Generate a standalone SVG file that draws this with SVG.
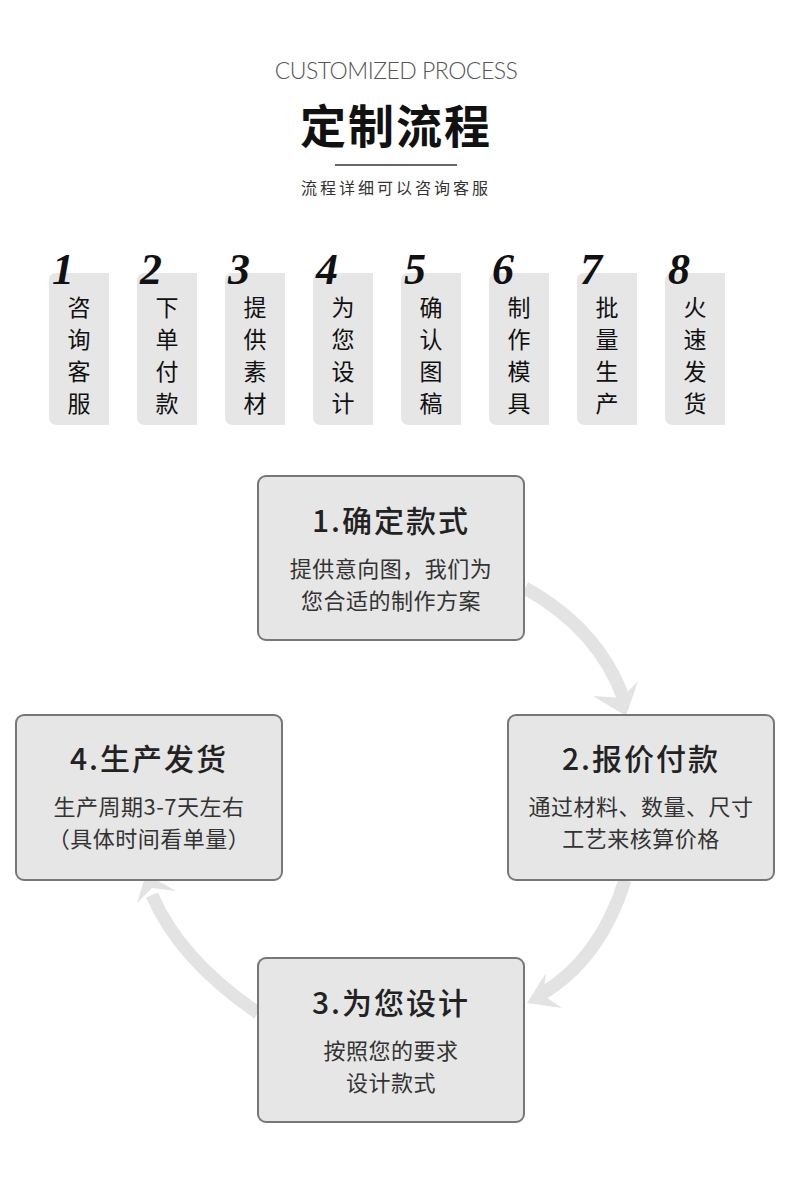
<svg xmlns="http://www.w3.org/2000/svg" width="790" height="1197" viewBox="0 0 790 1197">
<style>
.cj{font-family:"Noto Sans CJK SC","Liberation Sans",sans-serif}
.tab{fill:#e6e6e6}
.tt{font-size:23px;fill:#111;text-anchor:middle}
.num{font-family:"Liberation Serif","DejaVu Serif",serif;font-style:italic;font-weight:bold;font-size:44px;fill:#111}
.box{fill:#e6e6e6;stroke:#777;stroke-width:2}
.bt{font-size:30px;fill:#222;text-anchor:middle;font-weight:500;letter-spacing:2px}
.bd{font-size:22px;fill:#333;text-anchor:middle;letter-spacing:0.5px}
.arc{fill:none;stroke:#e3e3e3;stroke-width:13}
.ah{fill:#e3e3e3}
</style>
<rect width="790" height="1197" fill="#fff"/>
<text x="396" y="79" text-anchor="middle" font-family="Lato,'Liberation Sans',sans-serif" font-weight="300" font-size="23" fill="#555" letter-spacing="-0.5">CUSTOMIZED PROCESS</text>
<text x="396" y="143" class="cj" text-anchor="middle" font-size="46" font-weight="bold" fill="#111" letter-spacing="2">定制流程</text>
<line x1="335" y1="165" x2="457" y2="165" stroke="#333" stroke-width="1.5"/>
<text x="396" y="194" class="cj" text-anchor="middle" font-size="16" fill="#333" letter-spacing="3">流程详细可以咨询客服</text>
<g id="tabs">
<g id="t1"><path class="tab" d="M57,273 H109 V425 H57 Q49,425 49,417 V281 Q49,273 57,273Z"/><text class="num" x="52" y="284">1</text><text class="cj tt" x="79" y="316">咨</text><text class="cj tt" x="79" y="348">询</text><text class="cj tt" x="79" y="380">客</text><text class="cj tt" x="79" y="412">服</text></g>
<g id="t2"><path class="tab" d="M145,273 H197 V425 H145 Q137,425 137,417 V281 Q137,273 145,273Z"/><text class="num" x="140" y="284">2</text><text class="cj tt" x="167" y="316">下</text><text class="cj tt" x="167" y="348">单</text><text class="cj tt" x="167" y="380">付</text><text class="cj tt" x="167" y="412">款</text></g>
<g id="t3"><path class="tab" d="M233,273 H285 V425 H233 Q225,425 225,417 V281 Q225,273 233,273Z"/><text class="num" x="228" y="284">3</text><text class="cj tt" x="255" y="316">提</text><text class="cj tt" x="255" y="348">供</text><text class="cj tt" x="255" y="380">素</text><text class="cj tt" x="255" y="412">材</text></g>
<g id="t4"><path class="tab" d="M321,273 H373 V425 H321 Q313,425 313,417 V281 Q313,273 321,273Z"/><text class="num" x="316" y="284">4</text><text class="cj tt" x="343" y="316">为</text><text class="cj tt" x="343" y="348">您</text><text class="cj tt" x="343" y="380">设</text><text class="cj tt" x="343" y="412">计</text></g>
<g id="t5"><path class="tab" d="M409,273 H461 V425 H409 Q401,425 401,417 V281 Q401,273 409,273Z"/><text class="num" x="404" y="284">5</text><text class="cj tt" x="431" y="316">确</text><text class="cj tt" x="431" y="348">认</text><text class="cj tt" x="431" y="380">图</text><text class="cj tt" x="431" y="412">稿</text></g>
<g id="t6"><path class="tab" d="M497,273 H549 V425 H497 Q489,425 489,417 V281 Q489,273 497,273Z"/><text class="num" x="492" y="284">6</text><text class="cj tt" x="519" y="316">制</text><text class="cj tt" x="519" y="348">作</text><text class="cj tt" x="519" y="380">模</text><text class="cj tt" x="519" y="412">具</text></g>
<g id="t7"><path class="tab" d="M585,273 H637 V425 H585 Q577,425 577,417 V281 Q577,273 585,273Z"/><text class="num" x="580" y="284">7</text><text class="cj tt" x="607" y="316">批</text><text class="cj tt" x="607" y="348">量</text><text class="cj tt" x="607" y="380">生</text><text class="cj tt" x="607" y="412">产</text></g>
<g id="t8"><path class="tab" d="M673,273 H725 V425 H673 Q665,425 665,417 V281 Q665,273 673,273Z"/><text class="num" x="668" y="284">8</text><text class="cj tt" x="695" y="316">火</text><text class="cj tt" x="695" y="348">速</text><text class="cj tt" x="695" y="380">发</text><text class="cj tt" x="695" y="412">货</text></g>
</g>
<g id="connectors">
<path class="arc" d="M525,588 Q600,630 624,700"/>
<polygon class="ah" points="593,696 626,716 638,681 622,698"/>
<path class="arc" d="M625,880 Q600,960 540,995"/>
<polygon class="ah" points="546,973 527,1003 562,1008 543,995"/>
<path class="arc" d="M258,1013 Q180,960 152,895"/>
<polygon class="ah" points="137,903 146,874 176,891 152,888"/>
</g>
<g id="n1"><rect class="box" x="258" y="476" width="266" height="164" rx="8"/><text class="cj bt" x="391" y="532">1.确定款式</text><text class="cj bd" x="391" y="577">提供意向图，我们为</text><text class="cj bd" x="391" y="609">您合适的制作方案</text></g>
<g id="n2"><rect class="box" x="508" y="715" width="266" height="165" rx="8"/><text class="cj bt" x="641" y="770">2.报价付款</text><text class="cj bd" x="641" y="815">通过材料、数量、尺寸</text><text class="cj bd" x="641" y="847">工艺来核算价格</text></g>
<g id="n4"><rect class="box" x="16" y="715" width="266" height="165" rx="8"/><text class="cj bt" x="149" y="770">4.生产发货</text><text class="cj bd" x="149" y="815">生产周期3-7天左右</text><text class="cj bd" x="149" y="847">（具体时间看单量）</text></g>
<g id="n3"><rect class="box" x="258" y="958" width="266" height="164" rx="8"/><text class="cj bt" x="391" y="1014">3.为您设计</text><text class="cj bd" x="391" y="1059">按照您的要求</text><text class="cj bd" x="391" y="1091">设计款式</text></g>
</svg>
